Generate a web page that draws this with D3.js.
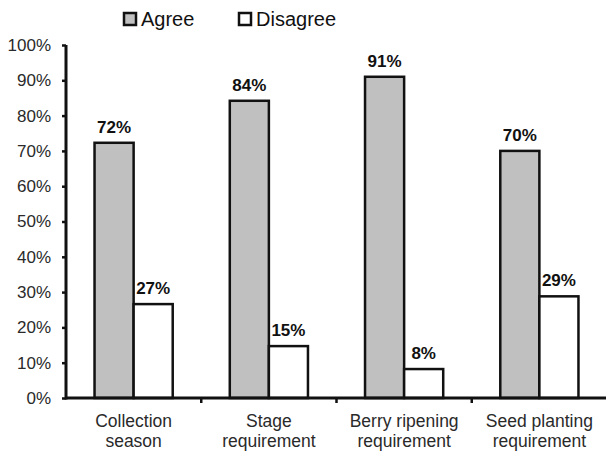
<!DOCTYPE html>
<html>
<head>
<meta charset="utf-8">
<script src="https://cdn.jsdelivr.net/npm/d3@7"></script>
<style>
  body { margin: 0; background: #fff; }
  svg { display: block; font-family: "Liberation Sans", Arial, sans-serif; }
  .tick-text { font-size: 17px; fill: #2a2a2a; }
  .cat-label { font-size: 17.5px; fill: #2a2a2a; }
  .val-label { font-size: 17px; font-weight: bold; fill: #111; }
  .legend-text { font-size: 20px; fill: #111; }
</style>
</head>
<body>
<svg id="chart" width="606" height="451"></svg>
<script>
var categories = [["Collection", "season"], ["Stage", "requirement"], ["Berry ripening", "requirement"], ["Seed planting", "requirement"]]
var series = ["Agree", "Disagree"]
var agree = [72.3, 84.2, 91, 70]
var disagree = [26.6, 14.7, 8.2, 28.8]
var yTicks = [0, 10, 20, 30, 40, 50, 60, 70, 80, 90, 100]

var colors = { Agree: "#c0c0c0", Disagree: "#ffffff" }

var margin = { top: 45, left: 66, bottom: 53 },
    width = 541,
    height = 451 - margin.top - margin.bottom

var svg = d3.select('#chart')
var chartArea = svg.append('g')
    .attr('transform', 'translate(' + margin.left + ',' + margin.top + ')')

var data = categories.map(function(c, i) {
    return { cat: c.join(' '), lines: c, Agree: agree[i], Disagree: disagree[i] }
})

var x = d3.scaleBand().domain(data.map(d => d.cat)).range([0, width]).padding(0)
var x1 = d3.scaleBand().domain(series).range([0, x.bandwidth()]).paddingInner(0).paddingOuter(0.73)
var y = d3.scaleLinear().domain([0, 100]).range([height, 0])

// bars
var groups = chartArea.selectAll('.cat-group')
    .data(data)
    .join('g')
    .attr('class', 'cat-group')
    .attr('transform', d => 'translate(' + x(d.cat) + ',0)')

groups.selectAll('rect')
    .data(d => series.map(s => ({ key: s, value: d[s] })))
    .join('rect')
    .attr('x', d => x1(d.key))
    .attr('y', d => y(d.value))
    .attr('width', x1.bandwidth())
    .attr('height', d => y(0) - y(d.value))
    .attr('fill', d => colors[d.key])
    .attr('stroke', '#111')
    .attr('stroke-width', 2.5)

groups.selectAll('.val-label')
    .data(d => series.map(s => ({ key: s, value: d[s] })))
    .join('text')
    .attr('class', 'val-label')
    .attr('x', d => x1(d.key) + x1.bandwidth() / 2)
    .attr('y', d => y(d.value) - 10)
    .attr('text-anchor', 'middle')
    .text(d => Math.round(d.value) + '%')

// y axis
var yAxis = chartArea.append('g')
    .call(d3.axisLeft(y).tickValues(yTicks).tickSize(4).tickFormat(d => d + '%'))
yAxis.select('.domain').attr('stroke', '#111').attr('stroke-width', 3)
    .attr('d', 'M0,' + (height + 1.5) + 'V0')
yAxis.selectAll('.tick line').attr('stroke', '#111').attr('stroke-width', 2.5)
yAxis.selectAll('.tick text').attr('class', 'tick-text').attr('x', -15)
    .attr('font-family', null).attr('font-size', null).attr('fill', null)

// x axis, ticks between categories
var xAxis = chartArea.append('g')
    .attr('transform', 'translate(0,' + height + ')')
xAxis.append('line')
    .attr('x1', 0).attr('x2', width)
    .attr('stroke', '#111').attr('stroke-width', 3)
xAxis.selectAll('.sep')
    .data(data.slice(1))
    .join('line')
    .attr('class', 'sep')
    .attr('x1', d => x(d.cat)).attr('x2', d => x(d.cat))
    .attr('y1', 0).attr('y2', 5)
    .attr('stroke', '#111').attr('stroke-width', 2.5)

var catLabels = xAxis.selectAll('.cat-label')
    .data(data)
    .join('text')
    .attr('class', 'cat-label')
    .attr('text-anchor', 'middle')
    .attr('transform', d => 'translate(' + (x(d.cat) + x.bandwidth() / 2) + ',0)')
catLabels.selectAll('tspan')
    .data(d => d.lines)
    .join('tspan')
    .attr('x', 0)
    .attr('y', (d, i) => 29 + i * 20)
    .text(d => d)

// legend
var legend = svg.append('g').attr('transform', 'translate(124, 13)')
var legendItems = legend.selectAll('g')
    .data(series)
    .join('g')
    .attr('transform', (d, i) => 'translate(' + (i * 115) + ',0)')
legendItems.append('rect')
    .attr('x', 0).attr('y', 0)
    .attr('width', 12).attr('height', 12)
    .attr('fill', d => colors[d])
    .attr('stroke', '#111')
    .attr('stroke-width', 2.5)
legendItems.append('text')
    .attr('class', 'legend-text')
    .attr('x', 17).attr('y', 13)
    .text(d => d)
</script>
</body>
</html>
